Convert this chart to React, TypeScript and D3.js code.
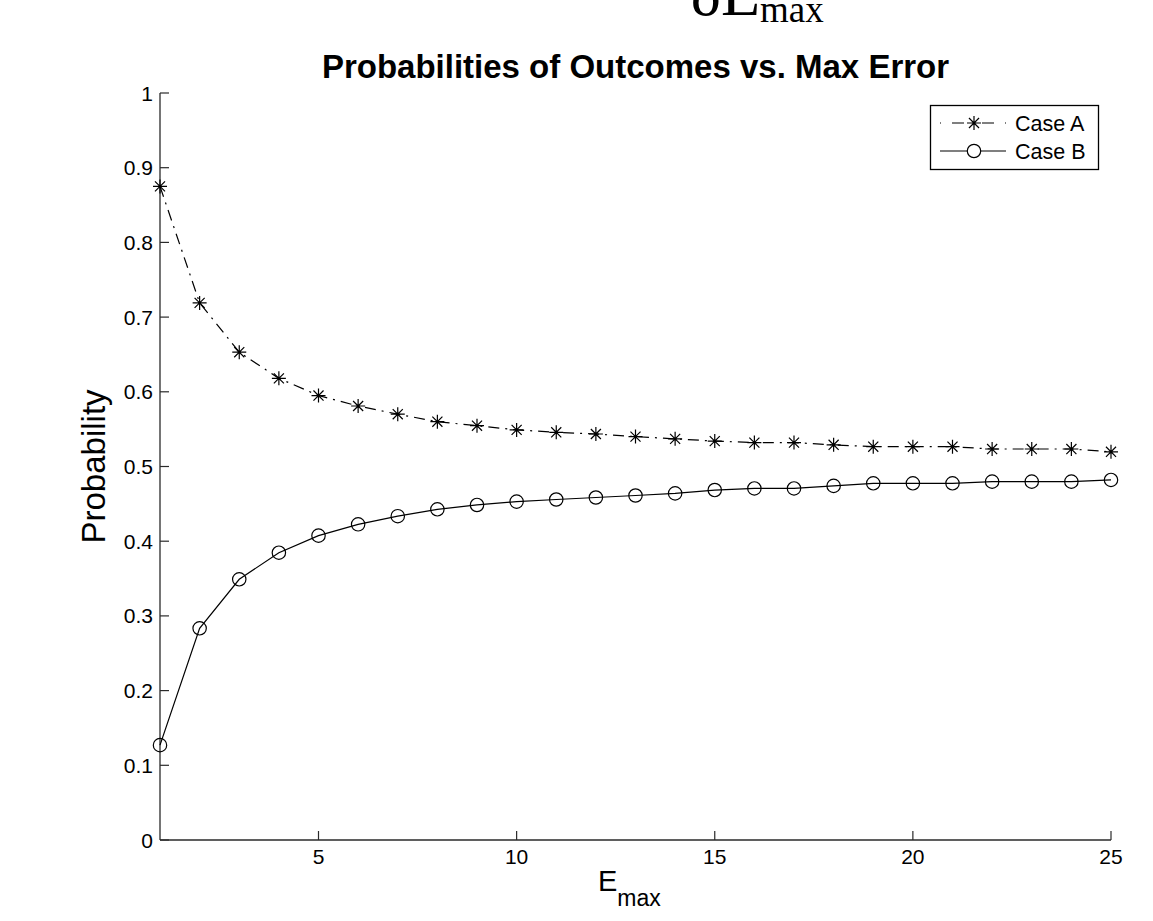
import React, { useEffect, useRef } from "react";
import * as d3 from "d3";

const xValues = [1, 2, 3, 4, 5, 6, 7, 8, 9, 10, 11, 12, 13, 14, 15, 16, 17, 18, 19, 20, 21, 22, 23, 24, 25];
const caseA = [0.875, 0.719, 0.653, 0.618, 0.595, 0.581, 0.570, 0.560, 0.5546, 0.549, 0.5458, 0.5435, 0.540, 0.537, 0.534, 0.532, 0.532, 0.529, 0.5265, 0.5265, 0.5265, 0.5234, 0.5234, 0.5234, 0.5197];
const caseB = [0.127, 0.2834, 0.349, 0.3846, 0.4074, 0.4226, 0.4335, 0.4427, 0.4485, 0.453, 0.4558, 0.4585, 0.4612, 0.464, 0.4685, 0.4706, 0.4706, 0.474, 0.4775, 0.4775, 0.4775, 0.4797, 0.4797, 0.4797, 0.482];
const xTicks = [5, 10, 15, 20, 25];
const yTicks = [0, 0.1, 0.2, 0.3, 0.4, 0.5, 0.6, 0.7, 0.8, 0.9, 1];
const seriesNames = ["Case A", "Case B"];
const titleText = "Probabilities of Outcomes vs. Max Error";

const W = 1153;
const H = 921;
const left = 160, right = 1111, top = 93, bottom = 840;
const FONT = "'Liberation Sans', Arial, Helvetica, sans-serif";

function starPath(r: number) {
  // 8-spoke asterisk (MATLAB '*' = '+' combined with 'x')
  const d = r * 0.72;
  return `M${-r},0L${r},0M0,${-r}L0,${r}M${-d},${-d}L${d},${d}M${-d},${d}L${d},${-d}`;
}

export default function App() {
  const ref = useRef<SVGSVGElement | null>(null);

  useEffect(() => {
    const svg = d3.select(ref.current);
    svg.selectAll("*").remove();

    const x = d3.scaleLinear().domain([1, 25]).range([left, right]);
    const y = d3.scaleLinear().domain([0, 1]).range([bottom, top]);

    // Top cropped formula text
    svg.append("text").attr("x", 760).attr("y", 15).attr("text-anchor", "end")
      .attr("font-family", "'Liberation Serif', 'Times New Roman', serif").attr("font-size", 64).attr("fill", "#000").text("δE");
    svg.append("text").attr("x", 760).attr("y", 22).attr("font-family", "'Liberation Serif', 'Times New Roman', serif")
      .attr("font-size", 37).attr("fill", "#000").text("max");

    // Title
    svg.append("text").attr("x", (left + right) / 2).attr("y", 78).attr("text-anchor", "middle")
      .attr("font-family", FONT).attr("font-weight", "bold").attr("font-size", 33).attr("fill", "#000").text(titleText);

    const axisColor = "#2a2a2a";
    svg.append("line").attr("x1", left).attr("x2", left).attr("y1", top).attr("y2", bottom).attr("stroke", axisColor).attr("stroke-width", 1.3);
    svg.append("line").attr("x1", left).attr("x2", right).attr("y1", bottom).attr("y2", bottom).attr("stroke", axisColor).attr("stroke-width", 1.3);

    // y ticks
    const yt = svg.append("g");
    yTicks.forEach((t) => {
      yt.append("line").attr("x1", left).attr("x2", left + 9).attr("y1", y(t)).attr("y2", y(t)).attr("stroke", axisColor).attr("stroke-width", 1.2);
      yt.append("text").attr("x", left - 7).attr("y", y(t)).attr("dy", "0.36em").attr("text-anchor", "end")
        .attr("font-family", FONT).attr("font-size", 21).attr("fill", "#000").text(d3.format("")(t));
    });
    // x ticks
    const xt = svg.append("g");
    xTicks.forEach((t) => {
      xt.append("line").attr("x1", x(t)).attr("x2", x(t)).attr("y1", bottom).attr("y2", bottom - 9).attr("stroke", axisColor).attr("stroke-width", 1.2);
      xt.append("text").attr("x", x(t)).attr("y", 864).attr("text-anchor", "middle")
        .attr("font-family", FONT).attr("font-size", 21).attr("fill", "#000").text(String(t));
    });

    // axis labels
    svg.append("text").attr("transform", `translate(105,${(top + bottom) / 2}) rotate(-90)`).attr("text-anchor", "middle")
      .attr("font-family", FONT).attr("font-size", 33).attr("fill", "#000").text("Probability");
    const xl = svg.append("text").attr("x", 598).attr("y", 891).attr("font-family", FONT).attr("fill", "#000");
    xl.append("tspan").attr("font-size", 29).text("E");
    xl.append("tspan").attr("font-size", 23).attr("dy", 15).text("max");

    const line = d3.line<number>().x((_, i) => x(xValues[i])).y((d) => y(d));

    // Case A
    svg.append("path").attr("d", line(caseA) as string).attr("fill", "none").attr("stroke", "#000").attr("stroke-width", 1.2)
      .attr("stroke-dasharray", "11,6,2,6");
    svg.append("g").selectAll("path").data(caseA).join("path")
      .attr("transform", (d, i) => `translate(${x(xValues[i])},${y(d)})`)
      .attr("d", starPath(7)).attr("stroke", "#000").attr("stroke-width", 1.2).attr("fill", "none");

    // Case B
    svg.append("path").attr("d", line(caseB) as string).attr("fill", "none").attr("stroke", "#000").attr("stroke-width", 1.2);
    svg.append("g").selectAll("circle").data(caseB).join("circle")
      .attr("cx", (_, i) => x(xValues[i])).attr("cy", (d) => y(d)).attr("r", 6.7)
      .attr("fill", "none").attr("stroke", "#000").attr("stroke-width", 1.2);

    // Legend
    const lg = svg.append("g");
    lg.append("rect").attr("x", 930.5).attr("y", 105.5).attr("width", 168).attr("height", 64)
      .attr("fill", "#fff").attr("stroke", "#000").attr("stroke-width", 1.3);
    const rows = [123, 151];
    seriesNames.forEach((name, i) => {
      const yy = rows[i];
      const l = lg.append("line").attr("x1", 940).attr("x2", 1006).attr("y1", yy).attr("y2", yy).attr("stroke", "#000").attr("stroke-width", 1.2);
      if (i === 0) {
        l.attr("stroke-dasharray", "1,11,12,18,12,11,1");
        lg.append("path").attr("transform", `translate(974,${yy})`).attr("d", starPath(7)).attr("stroke", "#000").attr("stroke-width", 1.2).attr("fill", "none");
      } else {
        lg.append("circle").attr("cx", 974).attr("cy", yy).attr("r", 6.7).attr("fill", "#fff").attr("stroke", "#000").attr("stroke-width", 1.2);
      }
      lg.append("text").attr("x", 1015).attr("y", yy).attr("dy", "0.36em").attr("font-family", FONT).attr("font-size", 21.5)
        .attr("fill", "#000").text(name);
    });
  }, []);

  return (
    <svg ref={ref} width={W} height={H} style={{ display: "block", position: "absolute", left: 0, top: 0, background: "#fff" }} />
  );
}
